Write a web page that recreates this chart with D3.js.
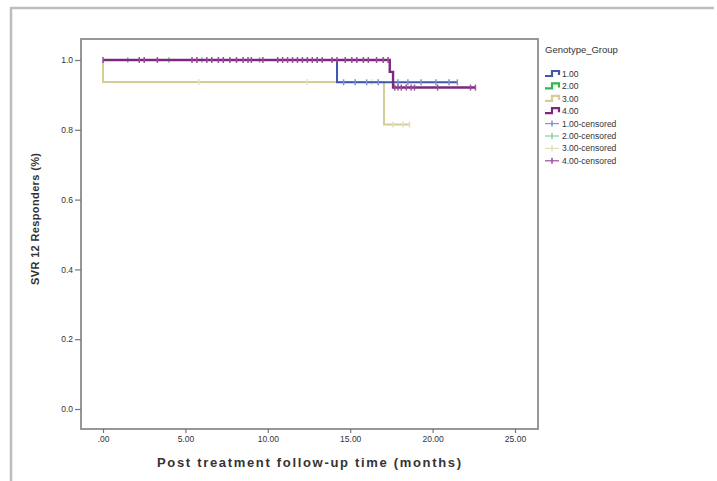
<!DOCTYPE html>
<html>
<head>
<meta charset="utf-8">
<script src="https://cdn.jsdelivr.net/npm/d3@7/dist/d3.min.js"></script>
<style>
  body { margin: 0; background: #fff; }
  svg { display: block; }
  text { font-family: "Liberation Sans", Arial, sans-serif; fill: #333; }
</style>
</head>
<body>
<div id="chart"></div>
<script>
/* Kaplan-Meier style step chart — SVR12 by genotype group */

const groups = ['1.00', '2.00', '3.00', '4.00'];
const lineColors = ['#3e58ac', '#2eb848', '#d3ce97', '#7c287d'];
const censorColors = ['#7d92cf', '#86d496', '#e4e0bc', '#9a4c9b'];

const xTicks = [0, 5, 10, 15, 20, 25];
const xTickLabels = ['.00', '5.00', '10.00', '15.00', '20.00', '25.00'];
const yTicks = [0, 0.2, 0.4, 0.6, 0.8, 1.0];
const yTickLabels = ['0.0', '0.2', '0.4', '0.6', '0.8', '1.0'];

// step curves as [time, survival]; last point = end of follow-up
const steps1 = [[0, 1], [14.2, 0.936], [21.5, 0.936]];
const steps2 = [[0, 1], [13.0, 1]];
const steps3 = [[0, 1], [0, 0.937], [17.05, 0.815], [18.6, 0.815]];
const steps4 = [[0, 1], [17.4, 0.966], [17.6, 0.921], [22.6, 0.921]];

// censored times
const cens1 = [14.6, 15.3, 16.0, 16.7, 17.9, 18.5, 19.3, 20.2, 21.0, 21.5];
const cens2 = [1.5, 4.0, 6.0, 9.5, 13.0];
const cens3 = [5.8, 12.4, 16.3, 17.6, 18.2, 18.6];
const cens4 = [0, 2.2, 2.5, 3.3, 5.4, 5.7, 6.3, 6.6, 7.0, 7.3, 7.7, 8.1, 8.5, 8.8, 9.0,
  9.7, 10.6, 10.9, 11.2, 11.5, 11.8, 12.1, 12.4, 12.7, 13.0, 13.3, 13.9, 14.2, 14.7,
  15.1, 15.4, 15.8, 16.1, 16.6, 17.0, 17.3, 17.7, 17.9, 18.1, 18.4, 18.7, 18.9, 20.3,
  22.3, 22.6];

const allSteps = [steps1, steps2, steps3, steps4];
const allCens = [cens1, cens2, cens3, cens4];

const W = 717, H = 481;
const box = { left: 81, top: 39, right: 538, bottom: 429 };

const svg = d3.select('#chart').append('svg')
  .attr('width', W).attr('height', H);

// outer frame (only top/left visible)
svg.append('path')
  .attr('d', `M 11 ${H} L 11 8 L ${W - 3} 8`)
  .attr('fill', 'none').attr('stroke', '#bdbdbd').attr('stroke-width', 2.5);

const x = d3.scaleLinear().domain([0, 25]).range([103, 515]);
const y = d3.scaleLinear().domain([0, 1]).range([409, 60]);

// plot box
svg.append('rect')
  .attr('x', box.left).attr('y', box.top)
  .attr('width', box.right - box.left).attr('height', box.bottom - box.top)
  .attr('fill', 'none').attr('stroke', '#8c8c8c').attr('stroke-width', 1.8);

// axes
const yAxis = svg.append('g').attr('transform', `translate(${box.left},0)`)
  .call(d3.axisLeft(y).tickValues(yTicks).tickFormat((d, i) => yTickLabels[i])
    .tickSize(6).tickPadding(2));
const xAxis = svg.append('g').attr('transform', `translate(0,${box.bottom})`)
  .call(d3.axisBottom(x).tickValues(xTicks).tickFormat((d, i) => xTickLabels[i])
    .tickSize(4).tickPadding(3));
[yAxis, xAxis].forEach(a => {
  a.select('.domain').remove();
  a.selectAll('.tick line').attr('stroke', '#777').attr('stroke-width', 1.2);
  a.selectAll('.tick text').attr('font-size', '8.5px').attr('fill', '#555')
    .attr('font-family', '"Liberation Sans", Arial, sans-serif');
});

// axis titles
svg.append('text')
  .attr('x', 309).attr('y', 467).attr('text-anchor', 'middle')
  .attr('font-family', 'DejaVu Sans, sans-serif').attr('font-weight', 'bold')
  .attr('font-size', '13px').attr('fill', '#222')
  .attr('textLength', 304).attr('lengthAdjust', 'spacing')
  .text('Post treatment follow-up time (months)');
svg.append('text')
  .attr('transform', 'translate(39,219) rotate(-90)').attr('text-anchor', 'middle')
  .attr('font-family', 'DejaVu Sans, sans-serif').attr('font-weight', 'bold')
  .attr('font-size', '11px').attr('fill', '#222')
  .attr('textLength', 132).attr('lengthAdjust', 'spacing')
  .text('SVR 12 Responders (%)');

// survival value at time t for a step curve
function survAt(stepsArr, t) {
  let s = stepsArr[0][1];
  for (const [tt, v] of stepsArr) if (tt <= t) s = v;
  return s;
}

const line = d3.line().x(d => x(d[0])).y(d => y(d[1])).curve(d3.curveStepAfter);

// draw order: green under purple, then yellow, blue, purple
const order = [1, 2, 0, 3];
order.forEach(i => {
  svg.append('path').datum(allSteps[i])
    .attr('d', line).attr('fill', 'none')
    .attr('stroke', lineColors[i]).attr('stroke-width', i === 3 ? 2.4 : 2);
  svg.append('g').selectAll('line').data(allCens[i]).join('line')
    .attr('x1', d => x(d)).attr('x2', d => x(d))
    .attr('y1', d => y(survAt(allSteps[i], d)) - 3)
    .attr('y2', d => y(survAt(allSteps[i], d)) + 3)
    .attr('stroke', censorColors[i]).attr('stroke-width', 1.5);
});

// legend
const lg = svg.append('g').attr('transform', 'translate(545,0)');
lg.append('text').attr('x', 0).attr('y', 53)
  .attr('font-size', '9.5px').attr('fill', '#444').text('Genotype_Group');

const rowY = d3.range(8).map(k => 74 + k * 12.4);
groups.forEach((g, i) => {
  const cy = rowY[i];
  lg.append('path')
    .attr('d', `M 0 ${cy + 2} L 7 ${cy + 2} L 7 ${cy - 3} L 14 ${cy - 3} L 14 ${cy + 1}`)
    .attr('fill', 'none').attr('stroke', lineColors[i]).attr('stroke-width', 2.2);
  lg.append('text').attr('x', 17).attr('y', cy + 3)
    .attr('font-size', '8.5px').attr('fill', '#444').text(g);
});
groups.forEach((g, i) => {
  const cy = rowY[i + 4];
  lg.append('line').attr('x1', 0).attr('x2', 14).attr('y1', cy).attr('y2', cy)
    .attr('stroke', censorColors[i]).attr('stroke-width', 1.2);
  lg.append('line').attr('x1', 7).attr('x2', 7).attr('y1', cy - 3).attr('y2', cy + 3)
    .attr('stroke', censorColors[i]).attr('stroke-width', 1.5);
  lg.append('text').attr('x', 17).attr('y', cy + 3)
    .attr('font-size', '8.5px').attr('fill', '#444').text(g + '-censored');
});
</script>
</body>
</html>
